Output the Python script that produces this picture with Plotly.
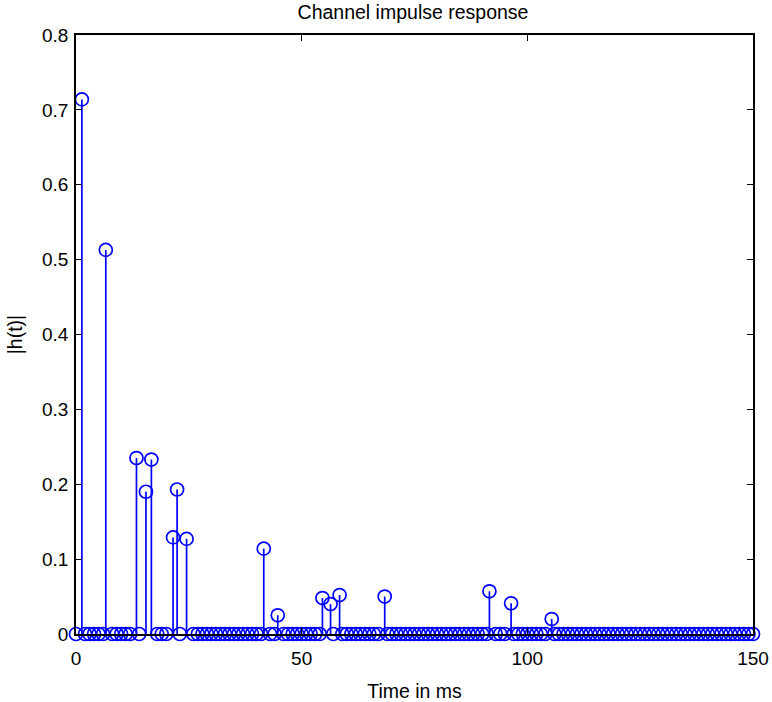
import numpy as np
import plotly.graph_objects as go

# sample grid of the impulse response (ms) where |h(t)| is ~0
grid_t = list(range(0, 151))

# non-zero taps
tap_t = [1.3, 6.6, 13.4, 15.5, 16.7, 21.5, 22.4, 24.5, 41.6, 44.7,
         54.6, 56.4, 58.4, 68.4, 91.6, 96.4, 105.4]
tap_h = [0.714, 0.513, 0.235, 0.190, 0.233, 0.129, 0.193, 0.127, 0.114, 0.025,
         0.048, 0.040, 0.052, 0.050, 0.057, 0.041, 0.020]

x_ticks = [0, 50, 100, 150]
y_ticks = [0, 0.1, 0.2, 0.3, 0.4, 0.5, 0.6, 0.7, 0.8]
y_labels = ["0", "0.1", "0.2", "0.3", "0.4", "0.5", "0.6", "0.7", "0.8"]

zero_t = [t for t in grid_t if min(abs(t - tt) for tt in tap_t) > 0.5]
all_t = zero_t + tap_t
all_h = [0.0] * len(zero_t) + tap_h

blue = "rgb(0,0,255)"

# stem lines
sx, sy = [], []
for t, h in zip(tap_t, tap_h):
    sx += [t, t, None]
    sy += [0, h, None]

fig = go.Figure()
fig.add_trace(go.Scatter(x=sx, y=sy, mode="lines",
                         line=dict(color=blue, width=1.7),
                         hoverinfo="skip", showlegend=False, cliponaxis=False))
fig.add_trace(go.Scatter(x=all_t, y=all_h, mode="markers",
                         marker=dict(symbol="circle-open", size=13,
                                     color=blue, line=dict(width=1.7, color=blue)),
                         showlegend=False, cliponaxis=False))

font = "Liberation Sans, Arial, sans-serif"
axis_common = dict(showline=True, linecolor="black", linewidth=1.6, mirror="ticks",
                   ticks="inside", ticklen=6, tickcolor="black", tickwidth=1.2,
                   showgrid=False, zeroline=False, automargin=False,
                   tickfont=dict(family=font, size=19, color="black"))

fig.update_layout(
    width=772, height=702,
    margin=dict(l=76, r=19, t=35, b=68),
    paper_bgcolor="white", plot_bgcolor="white",
    title=dict(text="Channel impulse response", x=0.535, xanchor="center",
               y=0.982, yanchor="middle",
               font=dict(family=font, size=19.5, color="black")),
    xaxis=dict(range=[0, 150], tickvals=x_ticks, ticktext=[str(v) for v in x_ticks],
               ticklabelstandoff=6,
               title=dict(text="Time in ms", standoff=18,
                          font=dict(family=font, size=19.5, color="black")),
               **axis_common),
    yaxis=dict(range=[0, 0.8], tickvals=y_ticks, ticktext=y_labels,
               ticklabelstandoff=2,
               title=dict(text="|h(t)|", standoff=14,
                          font=dict(family=font, size=19.5, color="black")),
               **axis_common),
)

fig.write_html("out.html")
